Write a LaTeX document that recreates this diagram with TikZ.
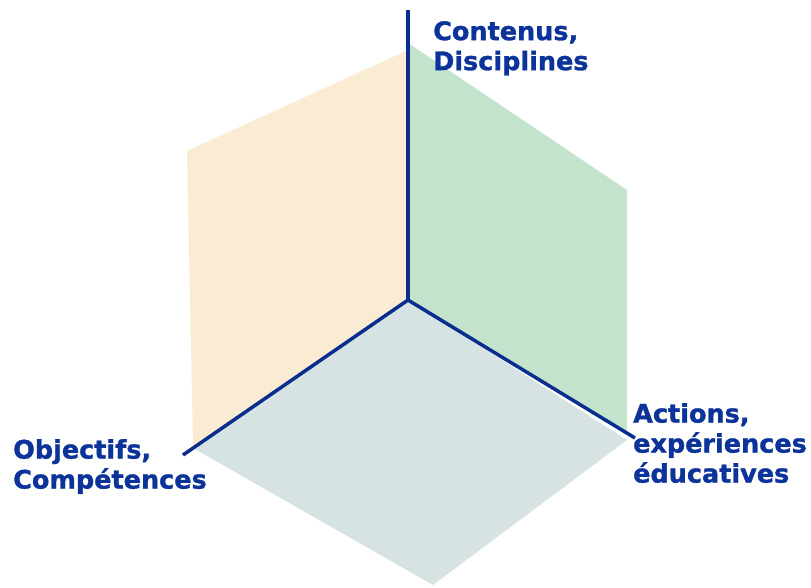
\documentclass[tikz,border=0pt]{standalone}
\usepackage{fontspec}
\setmainfont{DejaVu Sans}[BoldFeatures={FakeBold=1.2}]
\definecolor{axisblue}{HTML}{0A2E8F}
\definecolor{textblue}{HTML}{0B3399}
\definecolor{orangepanel}{HTML}{FAEBD3}
\definecolor{greenpanel}{HTML}{C3E3CD}
\definecolor{greypanel}{HTML}{D7E3E3}
\begin{document}
\begin{tikzpicture}[x=1pt,y=-1pt,
  axis/.style={draw=axisblue,line width=3.5pt},
  lab/.style={text=textblue,font=\bfseries\fontsize{25.5}{30}\selectfont,align=left,anchor=north west,inner sep=0pt}]
\useasboundingbox (0,0) rectangle (811,587);
% panels
\fill[orangepanel] (408,50) -- (187,151) -- (193,446) -- (408,300) -- cycle;
\fill[greenpanel] (408,43) -- (627,190) -- (627,432) -- (408,300) -- cycle;
\fill[greypanel] (408,300) -- (193,448) -- (433,585) -- (627,440) -- cycle;
% axes
\coordinate (o) at (408,300);
\coordinate (top) at (408,10);
\coordinate (left) at (183,455);
\coordinate (right) at (635,438);
\draw[axis] (o) -- (top);
\draw[axis] (o) -- (left);
\draw[axis] (o) -- (right);
% labels
\node[lab] (lc) at (433,21) {Contenus,\\Disciplines};
\node[lab] (lo) at (13,439) {Objectifs,\\Compétences};
\node[lab] (la) at (633,403) {Actions,\\expériences\\éducatives};
\end{tikzpicture}
\end{document}
